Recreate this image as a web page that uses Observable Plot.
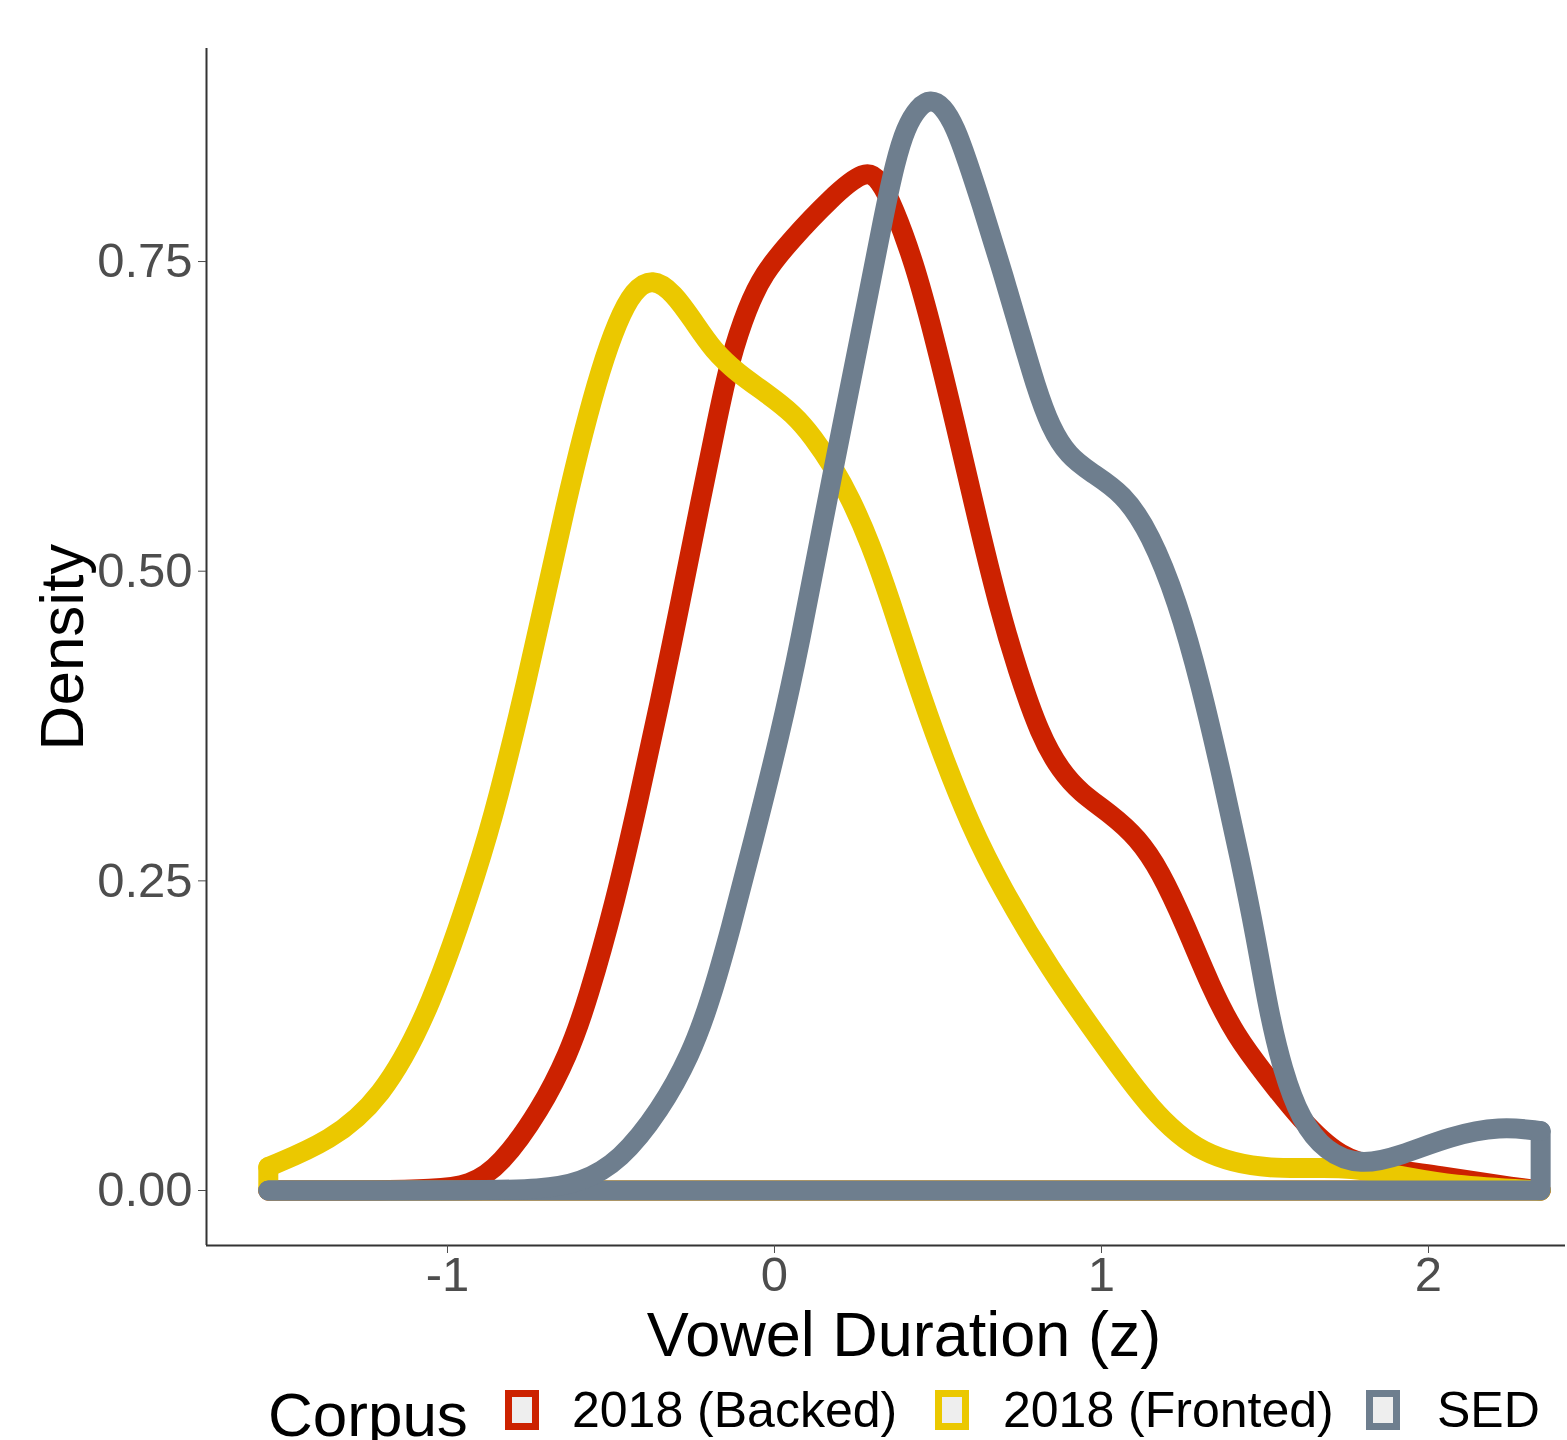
<!DOCTYPE html>
<html><head><meta charset="utf-8">
<script src="https://cdn.jsdelivr.net/npm/d3@7"></script>
<script src="https://cdn.jsdelivr.net/npm/@observablehq/plot@0.6"></script>
<style>
body{margin:0;background:#fff;font-family:"Liberation Sans",Arial,sans-serif;}
#wrap{position:relative;width:1567px;height:1440px;overflow:hidden;background:#fff}
.lg{position:absolute;white-space:nowrap;line-height:1;color:#000}
.key{position:absolute;box-sizing:border-box;border:7px solid;background:#EEEEEE}
</style></head><body><div id="wrap"></div>
<script>
// Categories and colours
const corpora = ["2018 (Backed)", "2018 (Fronted)", "SED"];
const colors = ["#CC2200", "#EBC800", "#6E7E8E"];
const legendTitle = "Corpus";
const xTicks = [-1, 0, 1, 2];
const yTicks = [0, 0.25, 0.5, 0.75];

// 2018 (Backed)
const xBacked = [-1.548, -1.2, -1.05, -0.93, -0.838, -0.716, -0.63, -0.572, -0.486, -0.416, -0.349, -0.287, -0.226, -0.174, -0.135, -0.083, -0.034, 0.049, 0.171, 0.278, 0.322, 0.364, 0.425, 0.486, 0.554, 0.621, 0.685, 0.743, 0.813, 0.875, 0.936, 1.028, 1.11, 1.18, 1.257, 1.333, 1.41, 1.502, 1.609, 1.731, 1.853, 2.037, 2.22, 2.343];
const yBacked = [0, 0, 0.001, 0.004, 0.02, 0.065, 0.11, 0.153, 0.234, 0.315, 0.396, 0.476, 0.557, 0.624, 0.672, 0.713, 0.74, 0.767, 0.801, 0.825, 0.816, 0.794, 0.751, 0.692, 0.618, 0.541, 0.472, 0.42, 0.367, 0.339, 0.321, 0.304, 0.285, 0.258, 0.214, 0.165, 0.125, 0.093, 0.057, 0.026, 0.018, 0.012, 0.004, 0];

// 2018 (Fronted)
const xFronted = [-1.548, -1.358, -1.205, -1.052, -0.899, -0.847, -0.771, -0.7, -0.639, -0.584, -0.532, -0.48, -0.431, -0.373, -0.309, -0.248, -0.187, -0.113, -0.021, 0.058, 0.119, 0.18, 0.232, 0.294, 0.355, 0.425, 0.508, 0.599, 0.691, 0.844, 0.997, 1.15, 1.303, 1.517, 1.731, 1.914, 2.067, 2.343];
const yFronted = [0.019, 0.04, 0.073, 0.145, 0.266, 0.315, 0.396, 0.48, 0.553, 0.613, 0.663, 0.702, 0.727, 0.737, 0.725, 0.702, 0.678, 0.66, 0.643, 0.627, 0.608, 0.584, 0.559, 0.522, 0.476, 0.418, 0.355, 0.295, 0.246, 0.178, 0.121, 0.065, 0.028, 0.016, 0.02, 0.012, 0.004, 0];

// SED
const xSED = [-1.548, -0.9, -0.716, -0.593, -0.471, -0.349, -0.257, -0.196, -0.135, -0.064, 0.018, 0.08, 0.141, 0.232, 0.284, 0.333, 0.37, 0.401, 0.44, 0.477, 0.514, 0.554, 0.59, 0.63, 0.691, 0.752, 0.798, 0.844, 0.899, 0.966, 1.067, 1.15, 1.232, 1.303, 1.373, 1.425, 1.471, 1.511, 1.554, 1.609, 1.685, 1.792, 1.914, 2.067, 2.22, 2.343];
const ySED = [0, 0, 0.001, 0.006, 0.024, 0.065, 0.109, 0.153, 0.21, 0.283, 0.369, 0.445, 0.53, 0.651, 0.719, 0.786, 0.831, 0.858, 0.875, 0.881, 0.876, 0.858, 0.831, 0.799, 0.747, 0.692, 0.65, 0.616, 0.593, 0.58, 0.563, 0.53, 0.476, 0.409, 0.329, 0.266, 0.206, 0.145, 0.097, 0.057, 0.031, 0.02, 0.028, 0.044, 0.052, 0.048];

const seriesX = [xBacked, xFronted, xSED];
const seriesY = [yBacked, yFronted, ySED];

const xDomain = [-1.737, 2.419];
const yDomain = [-0.0444, 0.922];

const marks = [];
corpora.forEach((c, i) => {
  const xs = seriesX[i], ys = seriesY[i];
  const upper = xs.map((x, j) => ({corpus: c, x, y: ys[j]}));
  const n = xs.length;
  const closing = [
    {corpus: c, x: xs[n - 1], y: ys[n - 1]},
    {corpus: c, x: xs[n - 1], y: 0},
    {corpus: c, x: xs[0], y: 0},
    {corpus: c, x: xs[0], y: ys[0]}
  ];
  const opts = {x: "x", y: "y", stroke: "corpus", strokeWidth: 20, strokeLinejoin: "round", strokeLinecap: "round"};
  marks.push(Plot.line(closing, {...opts, curve: "linear"}));
  marks.push(Plot.line(upper, {...opts, curve: "basis"}));
});

const chart = Plot.plot({
  width: 1567,
  height: 1375,
  marginTop: 48,
  marginBottom: 130,
  marginLeft: 206,
  marginRight: 2,
  style: {fontFamily: '"Liberation Sans", Arial, sans-serif', background: "#fff", overflow: "visible"},
  x: {domain: xDomain},
  y: {domain: yDomain},
  color: {domain: corpora, range: colors},
  marks: [
    ...marks,
    Plot.ruleX([xDomain[0]], {stroke: "#333", strokeWidth: 2}),
    Plot.ruleY([yDomain[0]], {stroke: "#333", strokeWidth: 2}),
    Plot.axisY({ticks: yTicks, tickFormat: d => d.toFixed(2), tickSize: 8, tickPadding: 6, fontSize: 49, color: "#4D4D4D", label: null}),
    Plot.axisX({ticks: xTicks, tickFormat: d => String(d), tickSize: 8, tickPadding: 3, fontSize: 49, color: "#4D4D4D", label: null}),
    Plot.text(["Vowel Duration (z)"], {frameAnchor: "bottom", lineAnchor: "middle", textAnchor: "middle", dx: 18, dy: 90, fontSize: 63, fill: "#000"}),
    Plot.text(["Density"], {frameAnchor: "left", lineAnchor: "middle", textAnchor: "middle", rotate: -90, dx: -143, fontSize: 62, fill: "#000"})
  ]
});

const wrap = document.getElementById("wrap");
wrap.appendChild(chart);

// Legend below the plot
function addText(txt, left, top, size) {
  const s = document.createElement("span");
  s.className = "lg";
  s.textContent = txt;
  s.style.left = left + "px";
  s.style.top = top + "px";
  s.style.fontSize = size + "px";
  wrap.appendChild(s);
}
function addKey(color, left) {
  const k = document.createElement("div");
  k.className = "key";
  k.style.borderColor = color;
  k.style.left = left + "px";
  k.style.top = "1390px";
  k.style.width = "34px";
  k.style.height = "40px";
  wrap.appendChild(k);
}
addText(legendTitle, 268, 1384, 62);
const keyLefts = [505, 935, 1366];
const labelLefts = [572, 1003, 1437];
corpora.forEach((c, i) => {
  addKey(colors[i], keyLefts[i]);
  addText(c, labelLefts[i], 1385, 50);
});
</script></body></html>
